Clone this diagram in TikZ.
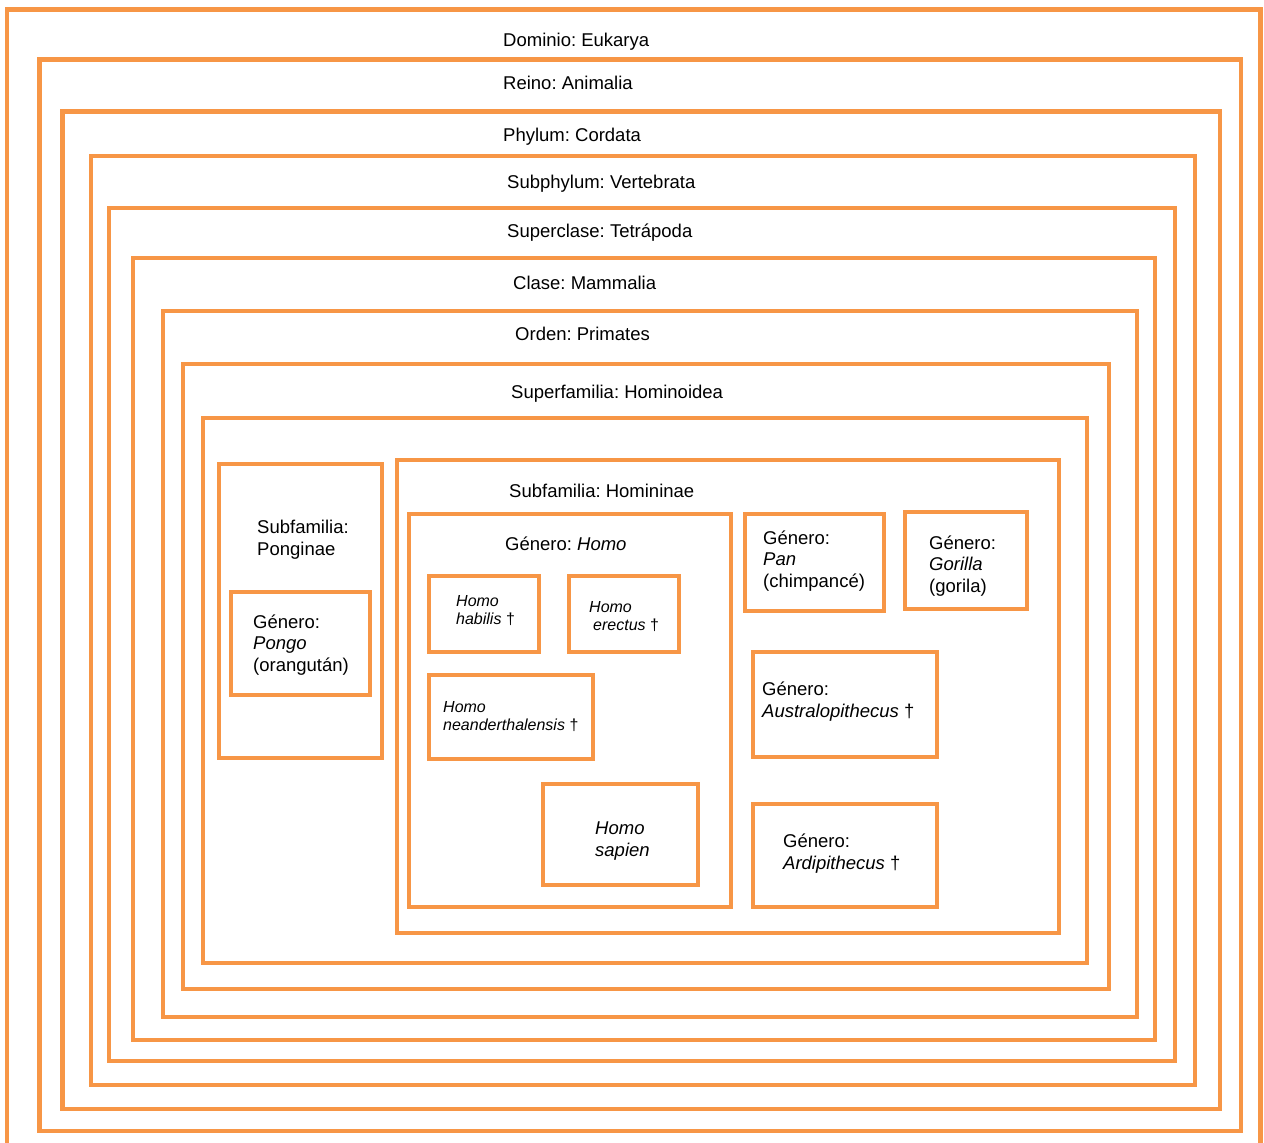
\documentclass[tikz,border=0pt]{standalone}
\usepackage{fontspec}
\setmainfont{Liberation Sans}
\definecolor{boxorange}{RGB}{247,150,70}
\begin{document}
\frenchspacing
\begin{tikzpicture}[x=1pt,y=-1pt,
  box/.style={draw=boxorange,line width=4.5pt},
  lbl/.style={inner sep=0pt,anchor=base west,align=left,font=\fontsize{18.5}{21.3}\selectfont},
  slbl/.style={inner sep=0pt,anchor=base west,align=left,font=\fontsize{16}{17.8}\selectfont}]
\useasboundingbox (0,0) rectangle (1264,1143);
% nested boxes
\draw[box] (7,1143) -- (7,9.5) -- (1260.5,9.5) -- (1260.5,1143);
\draw[box] (39.5,59.5) rectangle (1241,1131);
\draw[box] (62.5,111.5) rectangle (1220,1109);
\draw[box] (91,156) rectangle (1195,1085);
\draw[box] (109,208) rectangle (1175,1061);
\draw[box] (133,258) rectangle (1155,1040);
\draw[box] (163,311) rectangle (1137,1017);
\draw[box] (183,364) rectangle (1109,989);
\draw[box] (203,418) rectangle (1087,963);
\draw[box] (219,464) rectangle (382,758);
\draw[box] (231,592) rectangle (370,695);
\draw[box] (397,460) rectangle (1059,933);
\draw[box] (409,514) rectangle (731,907);
\draw[box] (429,576) rectangle (539,652);
\draw[box] (569,576) rectangle (679,652);
\draw[box] (429,675) rectangle (593,759);
\draw[box] (543,784) rectangle (698,885);
\draw[box] (745,514) rectangle (884,611);
\draw[box] (905,512) rectangle (1027,609);
\draw[box] (753,652) rectangle (937,757);
\draw[box] (753,804) rectangle (937,907);
% labels (base anchor = baseline of last line)
\node[lbl] (tdom) at (503,46) {Dominio: Eukarya};
\node[lbl] (trei) at (503,89) {Reino: Animalia};
\node[lbl] (tphy) at (503,141) {Phylum: Cordata};
\node[lbl] (tsub) at (507,188) {Subphylum: Vertebrata};
\node[lbl] (tsup) at (507,237) {Superclase: Tetrápoda};
\node[lbl] (tcla) at (513,289) {Clase: Mammalia};
\node[lbl] (tord) at (515,340) {Orden: Primates};
\node[lbl] (tsfa) at (511,398) {Superfamilia: Hominoidea};
\node[lbl] (thom) at (509,497) {Subfamilia: Homininae};
\node[lbl] (tpon) at (257,555) {Subfamilia:\\Ponginae};
\node[lbl] (tpgo) at (253,671) {Género:\\\textit{Pongo}\\(orangután)};
\node[lbl] (thomo) at (505,550) {Género: \textit{Homo}};
\node[slbl] (thab) at (456,624) {\textit{Homo}\\\textit{habilis} †};
\node[slbl] (tere) at (589,630) {\textit{Homo}\\\hspace*{4pt}\textit{erectus} †};
\node[slbl] (tnea) at (443,730) {\textit{Homo}\\\textit{neanderthalensis} †};
\node[lbl] (tsap) at (595,856) {\textit{Homo}\\\textit{sapien}};
\node[lbl] (tpan) at (763,587) {Género:\\\textit{Pan}\\(chimpancé)};
\node[lbl] (tgor) at (929,592) {Género:\\\textit{Gorilla}\\(gorila)};
\node[lbl] (taus) at (762,717) {Género:\\\textit{Australopithecus} †};
\node[lbl] (tard) at (783,869) {Género:\\\textit{Ardipithecus} †};
\end{tikzpicture}
\end{document}
